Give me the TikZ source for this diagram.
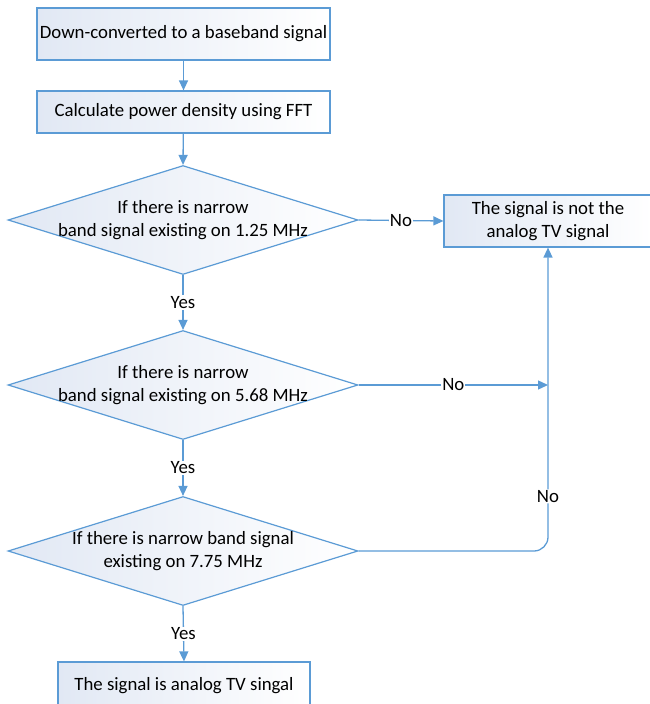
\documentclass[tikz,border=0pt]{standalone}
\usepackage{fontspec}
\setmainfont{Carlito}
\usetikzlibrary{shapes.geometric}
\usetikzlibrary{arrows.meta}
\usetikzlibrary{positioning}
\definecolor{flowline}{HTML}{5B9BD5}
\definecolor{flowfill}{HTML}{E1E8F4}
\tikzset{procbox/.style={rectangle,draw=flowline,line width=1.2pt,left color=flowfill,right color=white,inner sep=2pt,align=center}}
\tikzset{decis/.style={diamond,draw=flowline,line width=1.2pt,left color=flowfill,right color=white,minimum width=350pt,minimum height=109pt,inner sep=0pt}}
\tikzset{arr/.style={draw=flowline,line width=1.3pt,-{Triangle[length=10pt,width=9pt]}}}
\tikzset{lbl/.style={fill=white,inner sep=1pt}}

\begin{document}
\begin{tikzpicture}[x=1pt,y=-1pt,font=\fontsize{18.8}{23}\selectfont]
\useasboundingbox (0,0) rectangle (650,704);
% process boxes
\node[procbox, minimum width=293pt, minimum height=52pt] (down) at (183.5,34) {Down-converted to a baseband signal};
\node[procbox, minimum width=293pt, minimum height=42pt] (fft) at (183.5,112) {Calculate power density using FFT};
\node[procbox, minimum width=208pt, minimum height=52pt] (notv) at (548,221) {The signal is not the\\analog TV signal};
\node[procbox, minimum width=252pt, minimum height=48pt] (istv) at (184,686) {The signal is analog TV singal};
% decisions
\node[decis] (d1) at (183,220) {};
\node[align=center] (q1) at (d1) {If there is narrow\\band signal existing on 1.25 MHz};
\node[decis] (d2) at (183,385) {};
\node[align=center] (q2) at (d2) {If there is narrow\\band signal existing on 5.68 MHz};
\node[decis] (d3) at (183,551) {};
\node[align=center] (q3) at (d3) {If there is narrow band signal\\existing on 7.75 MHz};

\draw[arr] (down) -- (fft);
\draw[arr] (fft) -- (d1.north);
\draw[arr] (d1.east) -- node[lbl]{No} (notv.west);
\draw[arr] (d1.south) -- node[lbl]{Yes} (d2.north);
\draw[arr] (d2.east) -- node[lbl]{No} (d2.east -| notv.south);
\draw[arr] (d2.south) -- node[lbl]{Yes} (d3.north);
\draw[arr, rounded corners=14pt] (d3.east) -- (d3.east -| notv.south) -- node[lbl,pos=0.18]{No} (notv.south);
\draw[arr] (d3.south) -- node[lbl]{Yes} (istv.north);
\end{tikzpicture}
\end{document}
